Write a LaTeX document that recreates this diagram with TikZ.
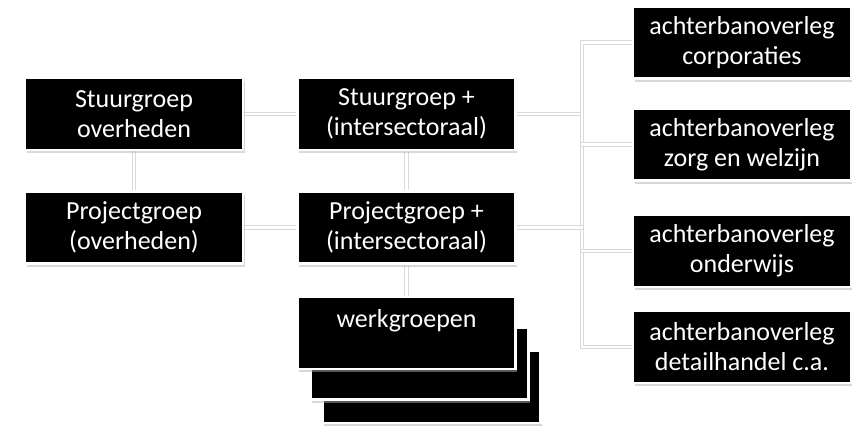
\documentclass[tikz,border=0pt]{standalone}
\usepackage{fontspec}
\setmainfont{Carlito}
\usetikzlibrary{shadows,backgrounds}

\tikzset{
    groep/.style={draw=white, line width=2.5pt, fill=black, text=white,
        minimum width=218pt, minimum height=72pt, align=center,
        font=\fontsize{26}{30}\selectfont, inner sep=0pt,
        drop shadow={shadow xshift=1.5pt, shadow yshift=-3pt, fill=black!30, opacity=.5}},
    lijn/.style={draw=black!15, line width=4.5pt, line cap=rect,
        postaction={draw=white, line width=2.5pt}}
}

\begin{document}
\begin{tikzpicture}[x=1pt,y=-1pt]
    \useasboundingbox (0,0) rectangle (852,431);

    % links
    \node[groep] (stuurOverh) at (134,114) {Stuurgroep\\overheden};
    \node[groep] (projOverh) at (134,227.5) {Projectgroep\\(overheden)};

    % midden, stapel werkgroepen (achterste eerst)
    \node[groep] (stuurPlus) at (406.5,114) {Stuurgroep +\\(intersectoraal)};
    \node[groep] (projPlus) at (406.5,227.5) {Projectgroep +\\(intersectoraal)};
    \node[groep] (werkC) at (431.5,387) {};
    \node[groep] (werkB) at (419.5,363.5) {};
    \node[groep] (werk) at (406.5,333) {werkgroepen\\\mbox{}};

    % rechts
    \node[groep] (achter1) at (742,42.5) {achterbanoverleg\\corporaties};
    \node[groep] (achter2) at (742,144.5) {achterbanoverleg\\zorg en welzijn};
    \node[groep] (achter3) at (742,251) {achterbanoverleg\\onderwijs};
    \node[groep] (achter4) at (742,347) {achterbanoverleg\\detailhandel c.a.};
    \coordinate (bus) at (582,347);

    % verbindingen
    \begin{scope}[on background layer]
        \draw[lijn] (stuurOverh) -- (stuurPlus);
        \draw[lijn] (stuurOverh) -- (projOverh);
        \draw[lijn] (projOverh) -- (projPlus);
        \draw[lijn] (stuurPlus) -- (projPlus);
        \draw[lijn] (projPlus) -- (werk);
        \draw[lijn] (stuurPlus) -| (achter1 -| bus);
        \draw[lijn] (achter1) -| (bus) -- (achter4);
        \draw[lijn] (projPlus) -- (projPlus -| bus);
        \draw[lijn] (achter2) -- (achter2 -| bus);
        \draw[lijn] (achter3) -- (achter3 -| bus);
    \end{scope}
\end{tikzpicture}
\end{document}
